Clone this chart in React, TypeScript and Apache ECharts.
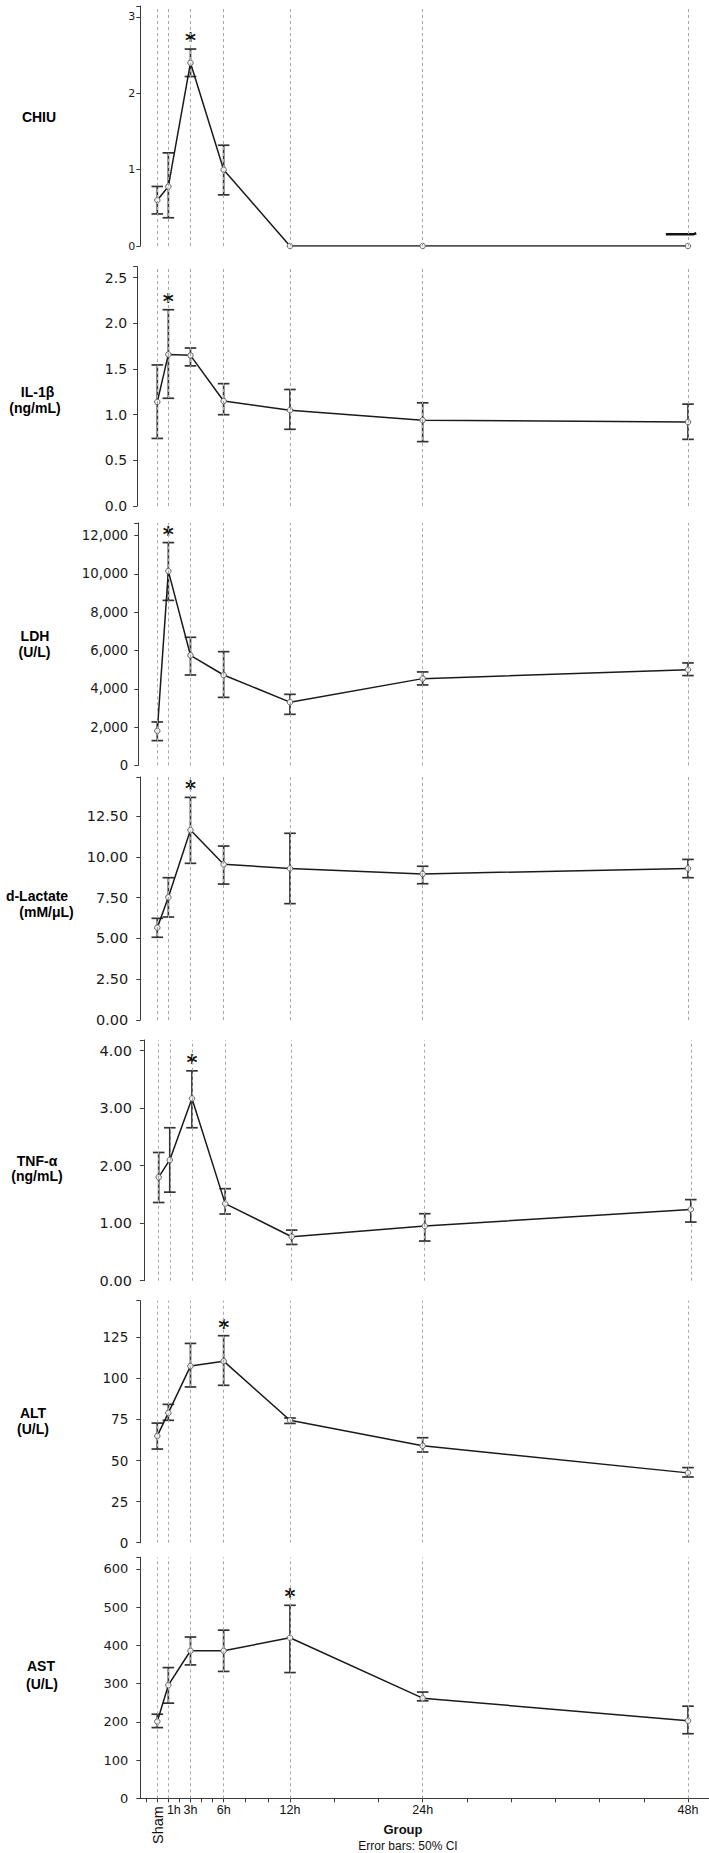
import React, { useEffect, useRef } from "react";
import * as echarts from "echarts";

// ---------- data ----------
const hours = [0, 1, 3, 6, 12, 24, 48];
const groupLabels = ["Sham", "1h", "3h", "6h", "12h", "24h", "48h"];
const xMinorTicks = [-1, 0, 1, 2, 3, 4, 5, 6, 8, 10, 12, 16, 20, 24, 28, 32, 36, 40, 44, 48];

const chiuMean = [0.6, 0.78, 2.4, 1.0, 0, 0, 0];
const chiuLow = [0.42, 0.37, 2.22, 0.67, 0, 0, 0];
const chiuHigh = [0.78, 1.22, 2.58, 1.32, 0, 0, 0];
const chiuStar = 2;
const chiuTicks = [0, 1, 2, 3];
const chiuStrayX = [46.0, 48.45, 48.75];
const chiuStrayY = [0.153, 0.153, 0.167];

const ilMean = [1.14, 1.66, 1.65, 1.15, 1.05, 0.94, 0.92];
const ilLow = [0.74, 1.18, 1.535, 1.0, 0.84, 0.705, 0.73];
const ilHigh = [1.545, 2.15, 1.73, 1.34, 1.276, 1.13, 1.116];
const ilStar = 1;
const ilTicks = [0, 0.5, 1.0, 1.5, 2.0, 2.5];

const ldhMean = [1800, 10150, 5750, 4720, 3300, 4530, 5000];
const ldhLow = [1290, 8620, 4720, 3550, 2665, 4200, 4690];
const ldhHigh = [2265, 11640, 6690, 5940, 3710, 4880, 5350];
const ldhStar = 1;
const ldhTicks = [0, 2000, 4000, 6000, 8000, 10000, 12000];

const lacMean = [5.66, 7.52, 11.64, 9.54, 9.29, 8.95, 9.29];
const lacLow = [5.07, 6.31, 9.6, 8.33, 7.13, 8.35, 8.72];
const lacHigh = [6.23, 8.72, 13.64, 10.66, 11.44, 9.42, 9.84];
const lacStar = 2;
const lacTicks = [0, 2.5, 5, 7.5, 10, 12.5];

const tnfMean = [1.8, 2.1, 3.17, 1.34, 0.765, 0.95, 1.24];
const tnfLow = [1.36, 1.54, 2.66, 1.16, 0.63, 0.69, 1.02];
const tnfHigh = [2.23, 2.66, 3.65, 1.6, 0.88, 1.165, 1.41];
const tnfStar = 2;
const tnfTicks = [0, 1, 2, 3, 4];

const altMean = [65, 79, 107.5, 110.5, 74.5, 59, 42.5];
const altLow = [57, 74.5, 94.8, 95.8, 72.6, 55.2, 40];
const altHigh = [72.8, 84.2, 121.3, 126, 75.9, 63.9, 45.7];
const altStar = 3;
const altTicks = [0, 25, 50, 75, 100, 125];

const astMean = [201, 296, 386, 386, 420, 262, 203];
const astLow = [185, 249, 349, 332, 329, 255, 169];
const astHigh = [220, 342, 422, 440, 505, 278, 241];
const astStar = 4;
const astTicks = [0, 100, 200, 300, 400, 500, 600];

// ---------- layout ----------
const W = 709;
const H = 1853;
const TICK_FONT = '"DejaVu Sans", sans-serif';
const LABEL_FONT = '"Liberation Sans", Arial, sans-serif';

const panels = [
  {
    mean: chiuMean, low: chiuLow, high: chiuHigh, star: chiuStar, ticks: chiuTicks,
    fmt: (v: number) => String(v), max: 3.144,
    left: 140.3, sham: 157.3, pxh: 11.056, top: 6, zero: 246, fs: 11, margin: 5,
    lines: [{ t: "CHIU", x: 39, y: 117 }],
  },
  {
    mean: ilMean, low: ilLow, high: ilHigh, star: ilStar, ticks: ilTicks,
    fmt: (v: number) => v.toFixed(1), max: 2.621,
    left: 137.1, sham: 157.3, pxh: 11.056, top: 266.7, zero: 506, fs: 14, margin: 10,
    lines: [{ t: "IL-1β", x: 37.5, y: 392 }, { t: "(ng/mL)", x: 35, y: 408 }],
  },
  {
    mean: ldhMean, low: ldhLow, high: ldhHigh, star: ldhStar, ticks: ldhTicks,
    fmt: (v: number) => v.toLocaleString("en-US"), max: 12664,
    left: 138.3, sham: 157.3, pxh: 11.056, top: 523, zero: 765.3, fs: 13.3, margin: 10,
    lines: [{ t: "LDH", x: 35, y: 636 }, { t: "(U/L)", x: 34.5, y: 652 }],
  },
  {
    mean: lacMean, low: lacLow, high: lacHigh, star: lacStar, ticks: lacTicks,
    fmt: (v: number) => v.toFixed(2), max: 14.89,
    left: 140.3, sham: 157.3, pxh: 11.056, top: 777, zero: 1020, fs: 14.5, margin: 12,
    lines: [{ t: "d-Lactate", x: 37, y: 896 }, { t: "(mM/μL)", x: 46.5, y: 912 }],
  },
  {
    mean: tnfMean, low: tnfLow, high: tnfHigh, star: tnfStar, ticks: tnfTicks,
    fmt: (v: number) => v.toFixed(2), max: 4.186,
    left: 143.9, sham: 158.7, pxh: 11.085, top: 1040, zero: 1280.7, fs: 14.5, margin: 12,
    lines: [{ t: "TNF-α", x: 37, y: 1161 }, { t: "(ng/mL)", x: 37, y: 1176 }],
  },
  {
    mean: altMean, low: altLow, high: altHigh, star: altStar, ticks: altTicks,
    fmt: (v: number) => String(v), max: 147.3,
    left: 140.3, sham: 157.3, pxh: 11.056, top: 1300.7, zero: 1542.7, fs: 13.5, margin: 12,
    lines: [{ t: "ALT", x: 33, y: 1413 }, { t: "(U/L)", x: 33, y: 1429 }],
  },
  {
    mean: astMean, low: astLow, high: astHigh, star: astStar, ticks: astTicks,
    fmt: (v: number) => String(v), max: 630.6,
    left: 140.3, sham: 157.3, pxh: 11.056, top: 1557.3, zero: 1798.3, fs: 13, margin: 12,
    lines: [{ t: "AST", x: 41, y: 1666 }, { t: "(U/L)", x: 42, y: 1684 }],
  },
];

function buildOption() {
  const grid: any[] = [];
  const xAxis: any[] = [];
  const yAxis: any[] = [];
  const series: any[] = [];
  const graphicEls: any[] = [];
  const last = panels.length - 1;

  panels.forEach((p, i) => {
    const width = W - p.left;
    const xmin = -(p.sham - p.left) / p.pxh;
    const xmax = xmin + width / p.pxh;
    grid.push({ left: p.left, top: p.top, width, height: p.zero - p.top });

    const isLast = i === last;
    xAxis.push({
      gridIndex: i,
      type: "value",
      min: xmin,
      max: xmax,
      show: isLast,
      axisLine: { show: isLast, onZero: false, lineStyle: { color: "#3a3a3a", width: 1 } },
      axisTick: {
        show: isLast,
        length: 4,
        customValues: xMinorTicks,
        lineStyle: { color: "#3a3a3a", width: 1 },
      },
      axisLabel: {
        show: isLast,
        customValues: hours.slice(1),
        formatter: (v: number) => {
          const idx = hours.indexOf(v);
          if (idx < 0) return "";
          return idx === 1 ? "{p|" + groupLabels[idx] + "}" : groupLabels[idx];
        },
        rich: { p: { padding: [0, 0, 0, 11], fontSize: 12.5, fontFamily: LABEL_FONT, color: "#111" } },
        fontSize: 12.5,
        fontFamily: LABEL_FONT,
        color: "#111",
        margin: 5,
      },
      splitLine: { show: false },
    });

    const step = p.ticks[1] - p.ticks[0];
    yAxis.push({
      gridIndex: i,
      type: "value",
      min: 0,
      max: p.max,
      interval: step,
      axisLine: { show: true, onZero: false, lineStyle: { color: "#3a3a3a", width: 1 } },
      axisTick: {
        show: true,
        length: 4,
        customValues: [...p.ticks, p.max],
        lineStyle: { color: "#3a3a3a", width: 1 },
      },
      axisLabel: {
        customValues: p.ticks,
        formatter: (v: number) => {
          const k = Math.round(v / step);
          if (Math.abs(k * step - v) > 1e-6 || v > p.ticks[p.ticks.length - 1] + 1e-6) return "";
          return p.fmt(v);
        },
        fontSize: p.fs,
        fontFamily: TICK_FONT,
        color: "#1a1a1a",
        margin: p.margin,
      },
      splitLine: { show: false },
    });

    // dashed group guide lines
    series.push({
      type: "line",
      xAxisIndex: i,
      yAxisIndex: i,
      data: hours.map((h) => [h, 0]),
      showSymbol: false,
      symbol: "none",
      lineStyle: { opacity: 0 },
      silent: true,
      z: 1,
      markLine: {
        silent: true,
        symbol: ["none", "none"],
        label: { show: false },
        lineStyle: { color: "#a8a8a8", type: [3, 3], width: 1 },
        emphasis: { disabled: true },
        data: hours.map((h) => ({ xAxis: h })),
      },
    });

    // error bars + significance star
    series.push({
      type: "custom",
      xAxisIndex: i,
      yAxisIndex: i,
      z: 2,
      encode: { x: 0, y: [1, 2] },
      data: hours.map((h, k) => [h, p.low[k], p.high[k], k === p.star ? 1 : 0]),
      renderItem: (params: any, api: any) => {
        const x = api.value(0);
        const lo = api.value(1);
        const hi = api.value(2);
        const st = api.value(3);
        const pLo = api.coord([x, lo]);
        const pHi = api.coord([x, hi]);
        const children: any[] = [];
        const w = 5.8;
        const style = { stroke: "#333333", lineWidth: 1.7 };
        if (hi > lo) {
          children.push({ type: "line", shape: { x1: pLo[0], y1: pLo[1], x2: pHi[0], y2: pHi[1] }, style });
          children.push({ type: "line", shape: { x1: pLo[0] - w, y1: pLo[1], x2: pLo[0] + w, y2: pLo[1] }, style });
          children.push({ type: "line", shape: { x1: pHi[0] - w, y1: pHi[1], x2: pHi[0] + w, y2: pHi[1] }, style });
        }
        if (st) {
          children.push({
            type: "text",
            x: pHi[0],
            y: pHi[1] - 8,
            style: {
              text: "*",
              font: 'bold 21px "DejaVu Sans"',
              fill: "#111",
              align: "center",
              verticalAlign: "middle",
            },
          });
        }
        return { type: "group", children };
      },
    });

    // mean line
    series.push({
      type: "line",
      xAxisIndex: i,
      yAxisIndex: i,
      z: 3,
      data: hours.map((h, k) => [h, p.mean[k]]),
      symbol: "circle",
      symbolSize: 5.5,
      showSymbol: true,
      itemStyle: { color: "#eeeeee", borderColor: "#666", borderWidth: 1 },
      lineStyle: { color: "#1a1a1a", width: 1.5 },
    });

    p.lines.forEach((ln) => {
      graphicEls.push({
        type: "text",
        x: ln.x,
        y: ln.y,
        style: {
          text: ln.t,
          font: "bold 14px " + LABEL_FONT,
          fill: "#000",
          align: "center",
          verticalAlign: "middle",
          textAlign: "center",
          textVerticalAlign: "middle",
        },
      });
    });
  });

  // stray stroke near 48h in the CHIU panel
  series.push({
    type: "line",
    xAxisIndex: 0,
    yAxisIndex: 0,
    z: 4,
    data: chiuStrayX.map((x, k) => [x, chiuStrayY[k]]),
    symbol: "none",
    lineStyle: { color: "#111", width: 2.5 },
  });

  // x-axis extra texts
  graphicEls.push({
    type: "text",
    x: 157.5,
    y: 1825,
    rotation: Math.PI / 2,
    style: {
      text: groupLabels[0],
      font: "14.5px " + LABEL_FONT,
      fill: "#111",
      align: "center",
      verticalAlign: "middle",
      textAlign: "center",
      textVerticalAlign: "middle",
    },
  });
  graphicEls.push({
    type: "text",
    x: 403,
    y: 1829,
    style: {
      text: "Group",
      font: "bold 13px " + LABEL_FONT,
      fill: "#111",
      align: "center",
      verticalAlign: "middle",
      textAlign: "center",
      textVerticalAlign: "middle",
    },
  });
  graphicEls.push({
    type: "text",
    x: 408,
    y: 1846,
    style: {
      text: "Error bars: 50% CI",
      font: "12px " + LABEL_FONT,
      fill: "#111",
      align: "center",
      verticalAlign: "middle",
      textAlign: "center",
      textVerticalAlign: "middle",
    },
  });

  return {
    animation: false,
    backgroundColor: "#ffffff",
    grid,
    xAxis,
    yAxis,
    series,
    graphic: { elements: graphicEls },
  };
}

export default function App() {
  const ref = useRef<HTMLDivElement>(null);
  useEffect(() => {
    document.body.style.margin = "0";
    if (!ref.current) return;
    const chart = echarts.init(ref.current, undefined, { renderer: "svg", width: W, height: H });
    chart.setOption(buildOption() as any);
    return () => {
      chart.dispose();
    };
  }, []);
  return <div ref={ref} style={{ width: W, height: H, position: "absolute", left: 0, top: 0 }} />;
}
